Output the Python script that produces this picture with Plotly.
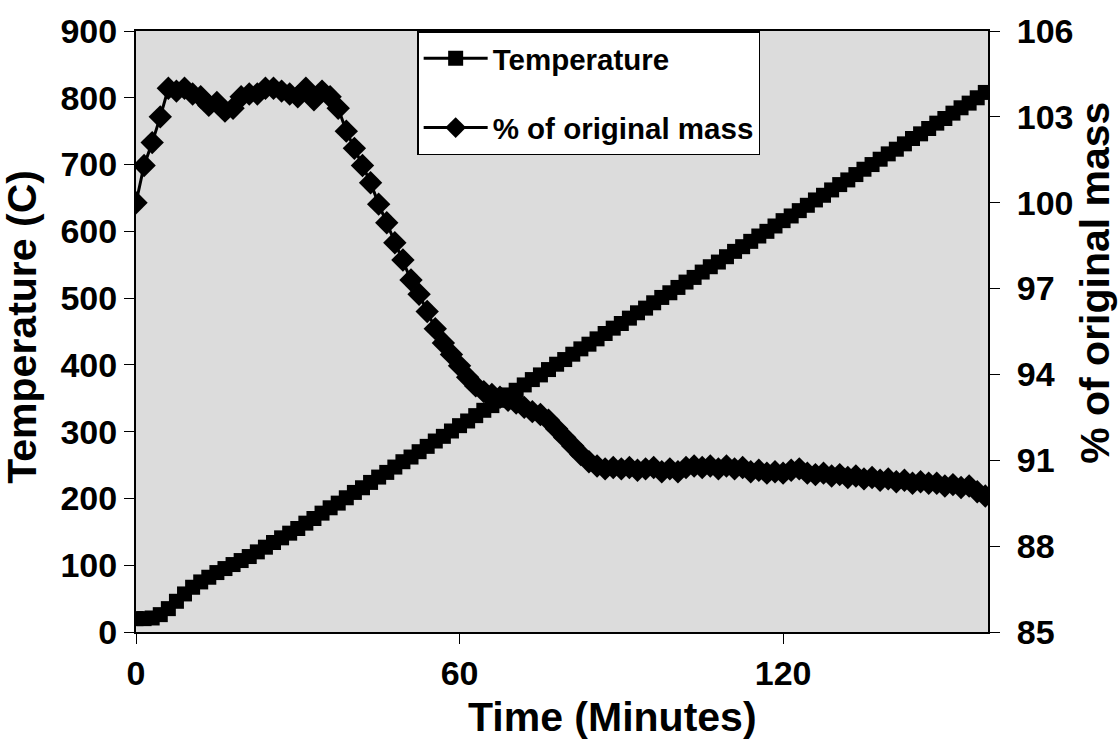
import plotly.graph_objects as go

# Sampling times (minutes)
time_min = [
    0, 1.5, 3, 4.5, 6, 7.5, 9, 10.5, 12, 13.5, 15, 16.5, 18, 19.5, 21, 22.5, 24, 25.5, 27, 28.5,
    30, 31.5, 33, 34.5, 36, 37.5, 39, 40.5, 42, 43.5, 45, 46.5, 48, 49.5, 51, 52.5, 54, 55.5, 57, 58.5,
    60, 61.5, 63, 64.5, 66, 67.5, 69, 70.5, 72, 73.5, 75, 76.5, 78, 79.5, 81, 82.5, 84, 85.5, 87, 88.5,
    90, 91.5, 93, 94.5, 96, 97.5, 99, 100.5, 102, 103.5, 105, 106.5, 108, 109.5, 111, 112.5, 114, 115.5, 117, 118.5,
    120, 121.5, 123, 124.5, 126, 127.5, 129, 130.5, 132, 133.5, 135, 136.5, 138, 139.5, 141, 142.5, 144, 145.5, 147, 148.5,
    150, 151.5, 153, 154.5, 156, 157.5,
]

# Furnace temperature (C)
temperature_c = [
    20, 20, 21, 26, 35, 46, 57, 67, 75, 82, 89, 95, 101, 107, 113, 120, 127, 134, 141, 148,
    155, 163, 170, 178, 186, 193, 201, 209, 216, 224, 232, 239, 247, 255, 262, 270, 278, 286, 293, 301,
    309, 316, 324, 332, 339, 347, 355, 362, 370, 378, 385, 393, 401, 408, 416, 424, 431, 439, 447, 455,
    462, 470, 478, 485, 493, 501, 508, 516, 524, 531, 539, 547, 554, 562, 570, 577, 585, 593, 600, 608,
    616, 623, 631, 639, 647, 654, 662, 670, 677, 685, 693, 700, 708, 716, 723, 731, 739, 746, 754, 762,
    769, 777, 785, 792, 800, 808,
]

# Sample mass relative to the starting mass (%)
mass_pct = [
    100.0, 101.3, 102.1, 103.0, 104.0, 103.9, 104.0, 103.8, 103.7, 103.4, 103.5, 103.2, 103.3, 103.7, 103.8, 103.8, 104.0, 104.0, 103.9, 103.8,
    103.7, 104.0, 103.6, 103.9, 103.7, 103.3, 102.5, 101.9, 101.3, 100.7, 99.95, 99.3, 98.6, 98.0, 97.3, 96.8, 96.2, 95.6, 95.1, 94.7,
    94.3, 93.9, 93.6, 93.4, 93.3, 93.2, 93.1, 93.0, 92.85, 92.7, 92.6, 92.4, 92.1, 91.8, 91.5, 91.2, 90.95, 90.8, 90.7, 90.75,
    90.7, 90.75, 90.65, 90.7, 90.75, 90.6, 90.7, 90.6, 90.75, 90.8, 90.75, 90.8, 90.7, 90.8, 90.7, 90.75, 90.6, 90.65, 90.55, 90.6,
    90.55, 90.65, 90.7, 90.55, 90.5, 90.55, 90.45, 90.5, 90.4, 90.45, 90.35, 90.4, 90.3, 90.35, 90.25, 90.3, 90.2, 90.25, 90.2, 90.2,
    90.1, 90.15, 90.05, 90.1, 89.9, 89.75,
]

x_ticks = [0, 60, 120]
temp_ticks = [0, 100, 200, 300, 400, 500, 600, 700, 800, 900]
mass_ticks = [85, 88, 91, 94, 97, 100, 103, 106]

FONT = "Liberation Sans, Arial, sans-serif"
X_RANGE = [0, 158]
T_RANGE = [0, 900]
M_RANGE = [85, 106]

fig = go.Figure()

fig.add_trace(go.Scatter(
    x=time_min, y=temperature_c, name="<b>Temperature</b>", mode="lines+markers",
    line=dict(color="black", width=3),
    marker=dict(symbol="square", size=15, color="black"),
    xaxis="x", yaxis="y", legendgroup="a",
))
fig.add_trace(go.Scatter(
    x=time_min, y=mass_pct, name="<b>% of original mass</b>", mode="lines+markers",
    line=dict(color="black", width=3),
    marker=dict(symbol="diamond", size=18, color="black"),
    xaxis="x", yaxis="y2", legendgroup="b",
))

tickfont = dict(family=FONT, size=34, color="black")
titlefont = dict(family=FONT, size=41, color="black")


def bold(vals):
    return [f"<b>{v}</b>" for v in vals]


common_tick = dict(ticks="outside", ticklen=10, tickcolor="black", tickwidth=1,
                   showgrid=False, zeroline=False)
inner_tick = dict(showticklabels=False, ticks="inside", ticklen=10, tickcolor="black",
                  tickwidth=1, showgrid=False, zeroline=False, showline=False)

fig.update_layout(
    width=1119, height=748,
    margin=dict(l=136, r=131, t=26, b=116),
    paper_bgcolor="white",
    plot_bgcolor="#dcdcdc",
    font=dict(family=FONT, color="black"),
    showlegend=True,
    legend=dict(
        x=0.33, y=1.0, xanchor="left", yanchor="top",
        bgcolor="white", bordercolor="black", borderwidth=1.5,
        font=dict(family=FONT, size=29.5, color="black"),
        tracegroupgap=28, itemwidth=64,
    ),
    xaxis=dict(
        range=X_RANGE, tickvals=x_ticks, ticktext=bold(x_ticks), tickfont=tickfont,
        showline=True, linecolor="black", linewidth=2, mirror=True, **common_tick,
    ),
    xaxis2=dict(range=X_RANGE, overlaying="x", tickvals=x_ticks, **inner_tick),
    yaxis=dict(
        range=T_RANGE, tickvals=temp_ticks, ticktext=bold(temp_ticks), tickfont=tickfont,
        showline=True, linecolor="black", linewidth=2, mirror=True, **common_tick,
    ),
    yaxis2=dict(
        range=M_RANGE, overlaying="y", side="right", tickvals=mass_ticks,
        ticktext=bold(mass_ticks), tickfont=tickfont, ticklabelstandoff=10,
        showline=True, linecolor="black", linewidth=2, **common_tick,
    ),
    yaxis3=dict(range=T_RANGE, overlaying="y", side="left", tickvals=temp_ticks, **inner_tick),
    yaxis4=dict(range=M_RANGE, overlaying="y", side="right", tickvals=mass_ticks, **inner_tick),
    annotations=[
        dict(text="<b>Time (Minutes)</b>", x=0.5587, y=-0.142, xref="paper", yref="paper",
             xanchor="center", yanchor="middle", showarrow=False, font=titlefont),
        dict(text="<b>Temperature (C)</b>", x=-0.1338, y=0.508, xref="paper", yref="paper",
             xanchor="center", yanchor="middle", textangle=-90, showarrow=False, font=titlefont),
        dict(text="<b>% of original mass</b>", x=1.1256, y=0.581, xref="paper", yref="paper",
             xanchor="center", yanchor="middle", textangle=-90, showarrow=False, font=titlefont),
    ],
)

fig.write_html("out.html")
